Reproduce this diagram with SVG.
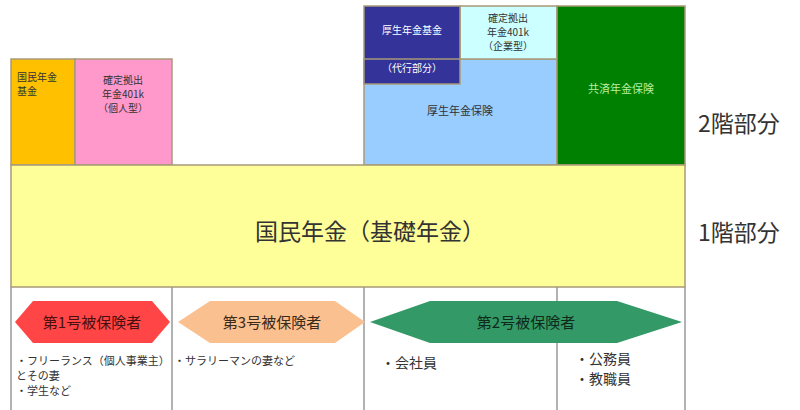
<svg xmlns="http://www.w3.org/2000/svg" width="800" height="410" viewBox="0 0 800 410">
<style>
text{font-family:"Noto Sans CJK JP","Noto Sans",sans-serif;fill:#333;}
.s{font-size:10px;}
.m{font-size:11px;}
.b{stroke:#a89a78;stroke-width:1.5;}
.g{stroke:#999;stroke-width:1.5;}
</style>
<rect width="800" height="410" fill="#fff"/>
<g id="kokumin-kikin"><rect x="11" y="59" width="64" height="106" fill="#FFC000" class="b"/>
<text class="s" x="17" y="81">国民年金</text><text class="s" x="17" y="95">基金</text></g>
<g id="kakutei-kojin"><rect x="75" y="59" width="97" height="106" fill="#FF99CC" class="b"/>
<text class="s" text-anchor="middle" x="123" y="84">確定拠出</text><text class="s" text-anchor="middle" x="123" y="98">年金401k</text><text class="s" text-anchor="middle" x="123" y="112">（個人型）</text></g>
<g id="kousei-hoken"><rect x="364" y="59" width="193" height="106" fill="#99CCFF" class="b"/>
<text class="m" text-anchor="middle" x="460" y="115">厚生年金保険</text></g>
<g id="kakutei-kigyou"><rect x="460" y="6" width="97" height="53" fill="#CCFFFF" class="b"/>
<text class="s" text-anchor="middle" x="508" y="22">確定拠出</text><text class="s" text-anchor="middle" x="508" y="36">年金401k</text><text class="s" text-anchor="middle" x="508" y="50">（企業型）</text></g>
<g id="kousei-kikin"><rect x="364" y="6" width="96" height="78" fill="#333399" class="b"/>
<line x1="364" y1="59" x2="460" y2="59" class="b"/>
<text class="s" text-anchor="middle" x="412" y="34" style="fill:#fff">厚生年金基金</text><text class="s" text-anchor="middle" x="412" y="72" style="fill:#fff">（代行部分）</text></g>
<g id="kyousai"><rect x="557" y="6" width="128" height="159" fill="#008000" class="b"/>
<text class="m" text-anchor="middle" x="621" y="93" style="fill:#b8f0a0">共済年金保険</text></g>
<g id="kiso"><rect x="11" y="165" width="674" height="122" fill="#FFFF99" class="b"/>
<text x="370" y="240" text-anchor="middle" style="font-size:23px">国民年金（基礎年金）</text></g>
<g id="labels"><text x="698" y="132" style="font-size:23px">2階部分</text><text x="698" y="241" style="font-size:23px">1階部分</text></g>
<g id="grid"><line x1="11" y1="287" x2="11" y2="410" class="g"/><line x1="172" y1="287" x2="172" y2="410" class="g"/><line x1="364" y1="287" x2="364" y2="410" class="g"/><line x1="557" y1="287" x2="557" y2="410" class="g"/><line x1="685" y1="287" x2="685" y2="410" class="g"/></g>
<g id="dai1"><polygon points="15,322 33,301 152,301 170,322 152,343 33,343" fill="#FF4545"/>
<text x="92" y="328" text-anchor="middle" style="font-size:15px;fill:#4a1010">第1号被保険者</text>
<text class="m" x="16" y="365">・フリーランス（個人事業主）</text><text class="m" x="16" y="380">とその妻</text><text class="m" x="16" y="395">・学生など</text></g>
<g id="dai3"><polygon points="178,322 210,301 335,301 365,322 335,343 210,343" fill="#FAC090"/>
<text x="272" y="328" text-anchor="middle" style="font-size:15px;fill:#3a2a1a">第3号被保険者</text>
<text class="m" x="174" y="365">・サラリーマンの妻など</text></g>
<g id="dai2"><polygon points="370,322 430,301 617,301 682,322 617,343 430,343" fill="#339966"/>
<text x="526" y="328" text-anchor="middle" style="font-size:15px;fill:#102a1a">第2号被保険者</text>
<text x="381" y="368" style="font-size:14px">・会社員</text>
<text x="575" y="364" style="font-size:14px">・公務員</text><text x="575" y="384" style="font-size:14px">・教職員</text></g>
</svg>
